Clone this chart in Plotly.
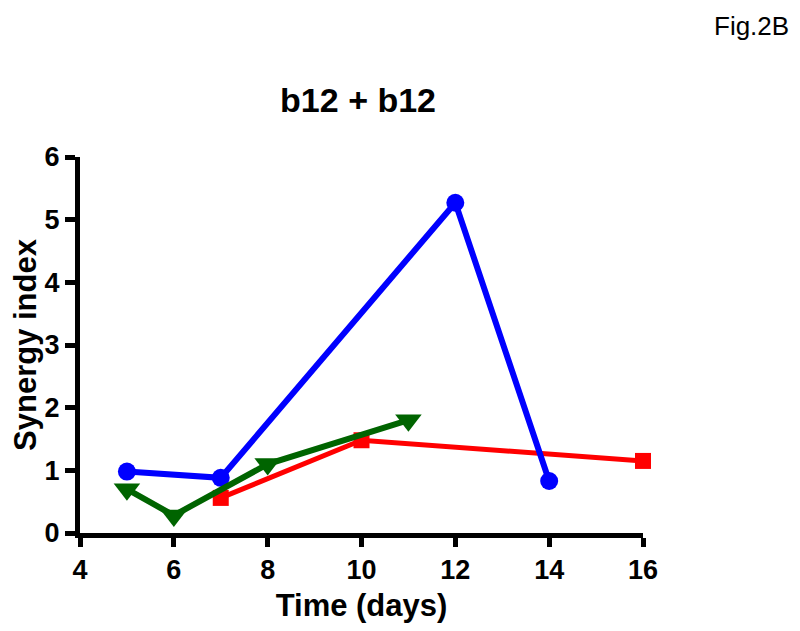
import plotly.graph_objects as go

blue_x = [5, 7, 12, 14]
blue_y = [0.98, 0.88, 5.27, 0.83]
red_x = [7, 10, 16]
red_y = [0.56, 1.48, 1.15]
green_x = [5, 6, 8, 11]
green_y = [0.70, 0.28, 1.10, 1.80]

x_ticks = [4, 6, 8, 10, 12, 14, 16]
y_ticks = [0, 1, 2, 3, 4, 5, 6]

FONT = "Liberation Sans, Arial, sans-serif"

fig = go.Figure()
fig.add_trace(go.Scatter(x=red_x, y=red_y, mode="lines+markers",
                         line=dict(color="#ff0000", width=5),
                         marker=dict(symbol="square", size=16, color="#ff0000"),
                         cliponaxis=False))
fig.add_trace(go.Scatter(x=blue_x, y=blue_y, mode="lines+markers",
                         line=dict(color="#0000ff", width=6),
                         marker=dict(symbol="circle", size=18, color="#0000ff"),
                         cliponaxis=False))
fig.add_trace(go.Scatter(x=green_x, y=green_y, mode="lines+markers",
                         line=dict(color="#006400", width=6),
                         marker=dict(symbol="triangle-down", size=23, color="#006400"),
                         cliponaxis=False))

fig.update_layout(
    width=792, height=623,
    paper_bgcolor="white", plot_bgcolor="white",
    showlegend=False,
    margin=dict(l=72, r=157, t=149, b=98),
    title=dict(text="b12 + b12", x=0.442, xanchor="center", y=0.852, yanchor="middle",
               font=dict(family=FONT, size=34, color="black", weight="bold")),
    annotations=[dict(text="Fig.2B", xref="paper", yref="paper", x=1.262, y=1.394,
                      xanchor="right", yanchor="top", showarrow=False,
                      font=dict(family=FONT, size=26, color="black"))],
    xaxis=dict(range=[4, 16], tickvals=x_ticks, ticktext=[str(v) for v in x_ticks],
               showgrid=False, zeroline=False, showline=True, linecolor="black", linewidth=5,
               ticks="outside", ticklen=9, tickwidth=5, tickcolor="black", automargin=False,
               tickfont=dict(family=FONT, size=27, color="black", weight="bold"),
               title=dict(text="Time (days)", font=dict(family=FONT, size=31, color="black", weight="bold"), standoff=11)),
    yaxis=dict(range=[0, 6], tickvals=y_ticks, ticktext=[str(v) for v in y_ticks],
               showgrid=False, zeroline=False, showline=True, linecolor="black", linewidth=5,
               ticks="outside", ticklen=10, tickwidth=5, tickcolor="black", automargin=False,
               tickfont=dict(family=FONT, size=27, color="black", weight="bold"),
               title=dict(text="Synergy index", font=dict(family=FONT, size=31, color="black", weight="bold"), standoff=9)),
)
fig.write_html("out.html")
